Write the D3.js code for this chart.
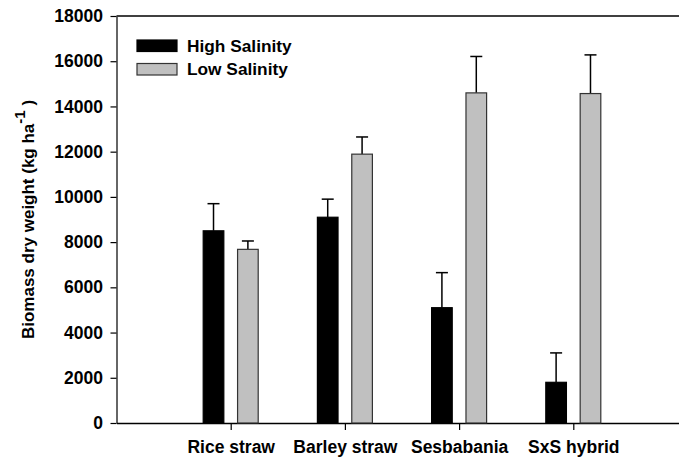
<!DOCTYPE html>
<html>
<head>
<meta charset="utf-8">
<script src="https://cdn.jsdelivr.net/npm/d3@7"></script>
<style>
  body { margin: 0; background: #fff; }
  svg { display: block; }
  text { font-family: "Liberation Sans", Arial, sans-serif; font-weight: bold; fill: #000; }
</style>
</head>
<body>
<svg id="chart" width="679" height="457"></svg>
<script>
const categories = ["Rice straw", "Barley straw", "Sesbabania", "SxS hybrid"];
const series = ["High Salinity", "Low Salinity"];
const highValues = [8500, 9100, 5100, 1800];
const highErrors = [1200, 800, 1550, 1300];
const lowValues = [7680, 11890, 14600, 14570];
const lowErrors = [370, 760, 1610, 1710];
const yTicks = [0, 2000, 4000, 6000, 8000, 10000, 12000, 14000, 16000, 18000];
const colors = ["#000000", "#c0c0c0"];
const strokes = ["#000000", "#333333"];

const svg = d3.select("#chart");
const plotLeft = 116.5, plotTop = 16, plotBottom = 423;

const y = d3.scaleLinear().domain([0, 18000]).range([plotBottom, plotTop]);
const x = d3.scaleLinear().domain([0, 5]).range([plotLeft, plotLeft + 5 * 114.2]);
const xSub = d3.scaleBand().domain(series).range([-27.5, 27.5]).paddingInner(0.4);

// top frame line
svg.append("line").attr("x1", plotLeft).attr("x2", 679).attr("y1", plotTop).attr("y2", plotTop)
  .attr("stroke", "#000").attr("stroke-width", 1.5);

// y axis
const yAxis = d3.axisLeft(y).tickValues(yTicks).tickFormat(d3.format("d")).tickSize(6).tickSizeOuter(0);
const gy = svg.append("g").attr("transform", `translate(${plotLeft},0)`).call(yAxis);
gy.select(".domain").attr("stroke", "#333").attr("stroke-width", 1.5);
gy.selectAll(".tick line").attr("stroke", "#000").attr("stroke-width", 1.2);
gy.selectAll(".tick text").attr("x", -13.5).style("font-size", "17.5px")
  .style("font-family", "'Liberation Sans', Arial, sans-serif").style("font-weight", "bold");

// x axis
const xAxis = d3.axisBottom(x).tickValues([1, 2, 3, 4]).tickFormat((d) => categories[d - 1]).tickSize(7).tickSizeOuter(0);
const gx = svg.append("g").attr("transform", `translate(0,${plotBottom})`).call(xAxis);
gx.select(".domain").attr("stroke", "#000").attr("stroke-width", 1.5);
gx.selectAll(".tick line").attr("stroke", "#000").attr("stroke-width", 1.2);
gx.selectAll(".tick text").attr("y", 29.5).attr("dy", 0).style("font-size", "17.5px")
  .style("font-family", "'Liberation Sans', Arial, sans-serif").style("font-weight", "bold");

// bars
const rows = categories.map((c, i) => ({
  cat: c, i: i,
  vals: [
    { s: series[0], v: highValues[i], e: highErrors[i], k: 0 },
    { s: series[1], v: lowValues[i], e: lowErrors[i], k: 1 }
  ]
}));

const groups = svg.append("g").selectAll("g").data(rows).join("g")
  .attr("transform", (d) => `translate(${x(d.i + 1)},0)`);

groups.selectAll("g.err").data((d) => d.vals).join("g").attr("class", "err").each(function (d) {
  const g = d3.select(this);
  const cx = xSub(d.s) + xSub.bandwidth() / 2;
  g.append("line").attr("x1", cx).attr("x2", cx).attr("y1", y(d.v)).attr("y2", y(d.v + d.e))
    .attr("stroke", "#000").attr("stroke-width", 1.5);
  g.append("line").attr("x1", cx - 6).attr("x2", cx + 6).attr("y1", y(d.v + d.e)).attr("y2", y(d.v + d.e))
    .attr("stroke", "#000").attr("stroke-width", 1.5);
});

groups.selectAll("rect").data((d) => d.vals).join("rect")
  .attr("x", (d) => xSub(d.s))
  .attr("width", xSub.bandwidth())
  .attr("y", (d) => y(d.v))
  .attr("height", (d) => y(0) - y(d.v))
  .attr("fill", (d) => colors[d.k])
  .attr("stroke", (d) => strokes[d.k])
  .attr("stroke-width", 1.2);

// legend
const legend = svg.append("g").selectAll("g").data(series).join("g")
  .attr("transform", (d, i) => `translate(137,${40 + i * 23.5})`);
legend.append("rect").attr("x", 0).attr("y", 0).attr("width", 40).attr("height", 11.5)
  .attr("fill", (d, i) => colors[i]).attr("stroke", (d, i) => strokes[i]).attr("stroke-width", 1.2);
legend.append("text").attr("x", 50).attr("y", 11.8).style("font-size", "17.3px").text((d) => d);

// y axis title
const title = svg.append("text")
  .attr("transform", `translate(34,${(plotTop + plotBottom) / 2}) rotate(-90)`)
  .attr("text-anchor", "middle")
  .style("font-size", "17px");
title.append("tspan").text("Biomass dry weight (kg ha");
title.append("tspan").attr("dy", -9).style("font-size", "15px").text("-1");
title.append("tspan").attr("dy", 9).text(" )");
</script>
</body>
</html>
